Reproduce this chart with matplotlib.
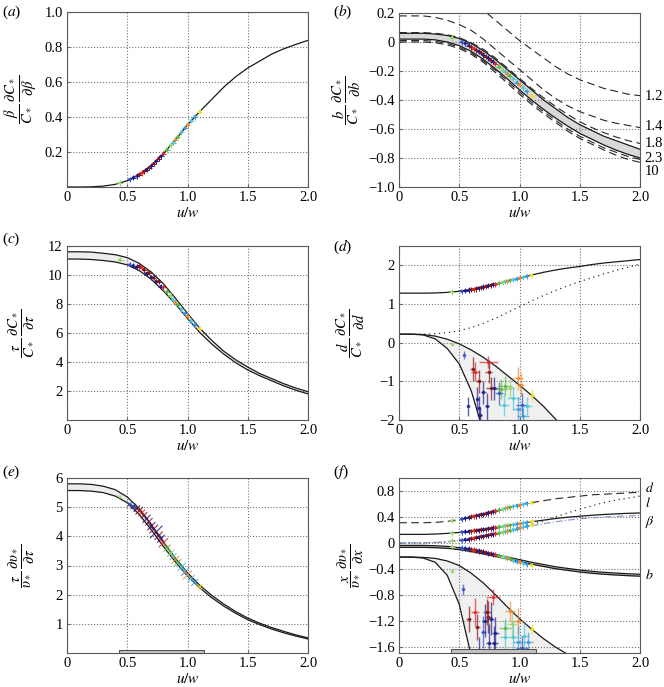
import numpy as np
import matplotlib
matplotlib.use('Agg')
import matplotlib.pyplot as plt

plt.rcParams['font.family'] = ['Liberation Serif', 'DejaVu Serif']
plt.rcParams['mathtext.fontset'] = 'stix'
plt.rcParams['font.size'] = 10

# common abscissa u/w
u = [0.0, 0.1, 0.2, 0.3, 0.4, 0.5, 0.6, 0.7, 0.8, 0.9, 1.0,
     1.1, 1.2, 1.3, 1.4, 1.5, 1.6, 1.7, 1.8, 1.9, 2.0]

# (a)
a_curve = [0, 0, 0.001, 0.005, 0.015, 0.036, 0.07, 0.12, 0.19, 0.27, 0.355,
           0.43, 0.50, 0.57, 0.63, 0.68, 0.72, 0.76, 0.79, 0.815, 0.838]

# (b)
b_upper = [0.06, 0.06, 0.06, 0.055, 0.045, 0.025, -0.01, -0.06, -0.12, -0.19, -0.26,
           -0.33, -0.40, -0.46, -0.52, -0.57, -0.61, -0.65, -0.68, -0.71, -0.74]
b_lower = [0.02, 0.02, 0.02, 0.015, 0.0, -0.025, -0.065, -0.12, -0.185, -0.255, -0.33,
           -0.40, -0.465, -0.525, -0.58, -0.63, -0.67, -0.71, -0.745, -0.775, -0.80]
b_d12 = [0.42, 0.42, 0.41, 0.39, 0.36, 0.33, 0.28, 0.22, 0.15, 0.08, 0.01,
         -0.05, -0.11, -0.17, -0.22, -0.26, -0.29, -0.32, -0.34, -0.36, -0.37]
b_d14 = [0.18, 0.18, 0.18, 0.17, 0.15, 0.12, 0.08, 0.02, -0.05, -0.12, -0.19,
         -0.26, -0.33, -0.39, -0.44, -0.48, -0.51, -0.54, -0.56, -0.575, -0.59]
b_d18 = [0.065, 0.065, 0.065, 0.06, 0.05, 0.03, -0.005, -0.05, -0.11, -0.18, -0.25,
         -0.32, -0.385, -0.445, -0.5, -0.55, -0.59, -0.625, -0.655, -0.68, -0.70]
b_d23 = [0.01, 0.01, 0.01, 0.005, -0.01, -0.035, -0.075, -0.13, -0.195, -0.27, -0.345,
         -0.415, -0.48, -0.54, -0.6, -0.65, -0.69, -0.73, -0.76, -0.79, -0.81]
b_d10 = [0.0, 0.0, 0.0, -0.005, -0.02, -0.045, -0.085, -0.14, -0.21, -0.285, -0.36,
         -0.43, -0.495, -0.555, -0.615, -0.665, -0.705, -0.745, -0.78, -0.81, -0.83]
b_names = ['1.2', '1.4', '1.8', '2.3', '10']
b_name_y = [-0.375, -0.58, -0.70, -0.80, -0.89]

# (c)
c_upper = [11.6, 11.6, 11.58, 11.5, 11.4, 11.2, 10.8, 10.2, 9.4, 8.4, 7.35,
           6.35, 5.5, 4.75, 4.15, 3.65, 3.2, 2.85, 2.5, 2.2, 1.95]
c_lower = [11.1, 11.1, 11.07, 11.0, 10.9, 10.7, 10.3, 9.7, 8.9, 8.0, 7.0,
           6.05, 5.25, 4.55, 3.95, 3.45, 3.05, 2.7, 2.35, 2.05, 1.8]

# (d)
d_top = [1.28, 1.28, 1.28, 1.285, 1.30, 1.33, 1.38, 1.44, 1.51, 1.59, 1.67,
         1.75, 1.82, 1.88, 1.93, 1.97, 2.02, 2.06, 2.09, 2.12, 2.15]
d_dot = [0.22, 0.22, 0.22, 0.23, 0.26, 0.31, 0.39, 0.50, 0.63, 0.78, 0.93,
         1.08, 1.22, 1.35, 1.47, 1.58, 1.68, 1.78, 1.87, 1.95, 2.03]
d_steep = [0.22, 0.22, 0.20, 0.10, -0.15, -0.55, -1.25, -2.3, -3.5, -5, -7,
           -9, -11, -13, -15, -17, -19, -21, -23, -25, -27]
d_shallow = [0.22, 0.22, 0.21, 0.17, 0.09, -0.03, -0.19, -0.38, -0.6, -0.85, -1.1,
             -1.36, -1.65, -1.98, -2.3, -2.7, -3.1, -3.5, -3.9, -4.3, -4.7]

# (e)
e_upper = [5.8, 5.8, 5.78, 5.72, 5.6, 5.35, 4.95, 4.4, 3.8, 3.25, 2.75,
           2.33, 1.98, 1.68, 1.42, 1.2, 1.02, 0.87, 0.74, 0.62, 0.52]
e_lower = [5.57, 5.57, 5.55, 5.5, 5.38, 5.15, 4.75, 4.22, 3.65, 3.12, 2.64,
           2.24, 1.9, 1.61, 1.36, 1.14, 0.97, 0.82, 0.69, 0.58, 0.48]

# (f)
f_d = [0.31, 0.31, 0.31, 0.315, 0.33, 0.36, 0.40, 0.44, 0.49, 0.54, 0.58,
       0.62, 0.65, 0.68, 0.70, 0.72, 0.74, 0.75, 0.76, 0.77, 0.78]
f_l = [0.0, 0.0, 0.0, 0.005, 0.015, 0.04, 0.07, 0.11, 0.15, 0.19, 0.23,
       0.28, 0.34, 0.40, 0.46, 0.52, 0.57, 0.62, 0.66, 0.69, 0.72]
f_beta = [0.13, 0.13, 0.13, 0.135, 0.145, 0.16, 0.18, 0.205, 0.235, 0.265, 0.295,
          0.325, 0.35, 0.375, 0.395, 0.41, 0.425, 0.437, 0.447, 0.455, 0.46]
f_fit = [0.0, 0.0, 0.0, 0.005, 0.015, 0.035, 0.065, 0.1, 0.14, 0.18, 0.22,
         0.26, 0.295, 0.325, 0.35, 0.37, 0.385, 0.398, 0.408, 0.415, 0.42]
f_b_upper = [-0.04, -0.04, -0.04, -0.045, -0.055, -0.075, -0.105, -0.14, -0.18, -0.22, -0.26,
             -0.3, -0.335, -0.37, -0.395, -0.42, -0.44, -0.455, -0.467, -0.477, -0.485]
f_b_lower = [-0.07, -0.07, -0.07, -0.075, -0.085, -0.105, -0.135, -0.17, -0.21, -0.25, -0.29,
             -0.33, -0.365, -0.4, -0.425, -0.45, -0.47, -0.485, -0.497, -0.507, -0.515]
f_steep = [-0.22, -0.22, -0.235, -0.3, -0.5, -0.95, -1.75, -2.6, -3.5, -4.5, -5.5,
           -6.5, -7.5, -8.5, -9.5, -10.5, -11.5, -12.5, -13.5, -14.5, -15.5]
f_shallow = [-0.22, -0.22, -0.225, -0.24, -0.28, -0.35, -0.47, -0.62, -0.8, -0.99, -1.17,
             -1.33, -1.48, -1.61, -1.72, -1.82, -1.9, -1.98, -2.05, -2.1, -2.15]
f_names = ['$d$', '$l$', r'$\beta$', '$b$']
f_name_y = [0.84, 0.615, 0.32, -0.50]

# experiments (shared u/w and colour)
exp_u = [0.44, 0.52, 0.55, 0.58, 0.60, 0.62, 0.64, 0.66, 0.68, 0.70, 0.72, 0.74, 0.76,
         0.78, 0.80, 0.83, 0.86, 0.88, 0.90, 0.92, 0.95, 0.98, 1.00, 1.03, 1.06, 1.10]
exp_c = ['lgreen', 'blue', 'dblue', 'dblue', 'dred', 'red', 'dred', 'dblue', 'dred',
         'dblue', 'dred', 'dblue', 'dred', 'dblue', 'red', 'green', 'lgreen', 'cyan',
         'orange', 'green', 'cyan', 'lblue', 'orange', 'cyan', 'lblue', 'yellow']
exp_a = [0.023, 0.043, 0.053, 0.063, 0.07, 0.08, 0.09, 0.10, 0.11, 0.12, 0.134, 0.148, 0.162,
         0.176, 0.19, 0.214, 0.238, 0.254, 0.27, 0.287, 0.312, 0.338, 0.355, 0.378, 0.40, 0.43]
exp_b = [0.03, 0.0, -0.01, -0.025, -0.035, -0.045, -0.055, -0.065, -0.075, -0.09, -0.10, -0.11,
         -0.125, -0.135, -0.15, -0.17, -0.19, -0.205, -0.22, -0.235, -0.255, -0.28, -0.295,
         -0.315, -0.34, -0.37]
exp_c_tau = [11.05, 10.7, 10.65, 10.55, 10.6, 10.5, 10.35, 10.1, 10.15, 9.85, 9.8, 9.55, 9.55,
             9.2, 9.15, 8.85, 8.55, 8.3, 8.1, 7.95, 7.65, 7.35, 7.15, 6.85, 6.55, 6.3]
exp_d = [1.31, 1.33, 1.34, 1.36, 1.37, 1.38, 1.39, 1.41, 1.42, 1.44, 1.45, 1.47, 1.48,
         1.50, 1.51, 1.54, 1.56, 1.58, 1.59, 1.61, 1.63, 1.65, 1.67, 1.69, 1.72, 1.74]
exp_e = [5.35, 5.1, 5.02, 4.95, 4.88, 4.8, 4.72, 4.6, 4.5, 4.35, 4.25, 4.15, 4.02,
         3.92, 3.78, 3.6, 3.42, 3.3, 3.2, 3.1, 2.95, 2.78, 2.68, 2.55, 2.42, 2.27]
exp_e_size = [6, 14, 16, 22, 30, 26, 22, 34, 28, 34, 40, 80, 36,
              30, 45, 26, 30, 26, 30, 26, 36, 30, 40, 30, 26, 14]
exp_fd = [0.34, 0.365, 0.38, 0.39, 0.40, 0.41, 0.415, 0.425, 0.435, 0.44, 0.45, 0.46, 0.47,
          0.48, 0.49, 0.505, 0.52, 0.53, 0.54, 0.55, 0.565, 0.575, 0.58, 0.595, 0.61, 0.62]
exp_fbeta = [0.15, 0.165, 0.17, 0.175, 0.18, 0.185, 0.19, 0.195, 0.20, 0.205, 0.21, 0.215, 0.22,
             0.228, 0.235, 0.245, 0.255, 0.26, 0.265, 0.27, 0.28, 0.29, 0.295, 0.305, 0.315, 0.33]
exp_fl = [0.03, 0.04, 0.05, 0.055, 0.065, 0.07, 0.08, 0.085, 0.095, 0.10, 0.11, 0.115, 0.125,
          0.13, 0.14, 0.15, 0.165, 0.17, 0.18, 0.19, 0.205, 0.22, 0.23, 0.245, 0.26, 0.28]
exp_fb = [-0.06, -0.08, -0.085, -0.095, -0.10, -0.11, -0.115, -0.125, -0.13, -0.14, -0.15,
          -0.16, -0.17, -0.175, -0.185, -0.2, -0.215, -0.225, -0.235, -0.245, -0.275, -0.29,
          -0.30, -0.315, -0.33, -0.345]

# individual estimates with error bars, panel (d)
dlow_u = [0.44, 0.54, 0.57, 0.61, 0.63, 0.66, 0.65, 0.66, 0.67, 0.70, 0.74, 0.745, 0.76, 0.73,
          0.79, 0.83, 0.88, 0.92, 0.99, 1.01, 0.95, 0.87, 0.99, 1.02, 1.06, 1.03, 1.10, 0.85]
dlow_y = [-0.03, -0.31, -1.65, -0.68, -0.75, -1.0, -1.45, -1.68, -1.88, -1.28, -0.50, -0.75,
          -1.18, -1.65, -1.18, -1.31, -1.11, -1.18, -0.92, -1.09, -1.44, -1.60, -1.71, -1.60,
          -1.65, -1.90, -1.35, -1.2]
dlow_xerr = [0.005, 0.01, 0.005, 0.02, 0.03, 0.02, 0.01, 0.01, 0.02, 0.02, 0.08, 0.03, 0.04, 0.02,
             0.03, 0.03, 0.06, 0.04, 0.04, 0.03, 0.05, 0.04, 0.04, 0.05, 0.04, 0.05, 0.02, 0.05]
dlow_yerr = [0.02, 0.1, 0.25, 0.3, 0.25, 0.3, 0.3, 0.3, 0.2, 0.3, 0.15, 0.3, 0.3, 0.35,
             0.3, 0.3, 0.25, 0.25, 0.3, 0.3, 0.3, 0.3, 0.3, 0.3, 0.25, 0.2, 0.15, 0.25]
dlow_c = ['lgreen', 'blue', 'dblue', 'dred', 'red', 'dred', 'dblue', 'dblue', 'dblue', 'dblue',
          'red', 'dred', 'dred', 'dblue', 'dblue', 'blue', 'green', 'lgreen', 'orange', 'orange',
          'cyan', 'cyan', 'lblue', 'blue', 'cyan', 'lblue', 'yellow', 'green']

# individual estimates with error bars, panel (f)
flow_u = [0.44, 0.53, 0.58, 0.63, 0.65, 0.66, 0.70, 0.71, 0.73, 0.74, 0.745, 0.76, 0.78,
          0.79, 0.80, 0.88, 0.94, 0.99, 0.88, 0.95, 0.99, 1.02, 1.04, 1.07, 1.10, 0.92]
flow_y = [-0.44, -0.72, -1.17, -1.07, -1.30, -1.65, -1.38, -1.20, -1.07, -1.14, -1.55, -1.17,
          -0.84, -1.54, -1.39, -1.32, -1.25, -1.20, -1.45, -1.45, -1.53, -1.63, -1.43, -1.53,
          -1.33, -1.05]
flow_xerr = [0.005, 0.01, 0.02, 0.03, 0.02, 0.02, 0.02, 0.02, 0.03, 0.03, 0.02, 0.03, 0.06,
             0.03, 0.03, 0.05, 0.04, 0.04, 0.04, 0.04, 0.04, 0.05, 0.04, 0.04, 0.02, 0.04]
flow_yerr = [0.02, 0.08, 0.2, 0.22, 0.2, 0.2, 0.25, 0.25, 0.2, 0.25, 0.3, 0.25, 0.12,
             0.25, 0.25, 0.15, 0.2, 0.2, 0.25, 0.25, 0.25, 0.2, 0.2, 0.15, 0.08, 0.15]
flow_c = ['lgreen', 'blue', 'dred', 'red', 'dred', 'dblue', 'blue', 'dblue', 'dred', 'dred',
          'dblue', 'dblue', 'red', 'dblue', 'dblue', 'green', 'lgreen', 'orange', 'cyan', 'cyan',
          'lblue', 'blue', 'cyan', 'lblue', 'yellow', 'orange']

# range of u/w covered by the experiments
exp_range = [0.43, 1.14]

palette = {'dblue': '#1c1c8a', 'blue': '#2f52c4', 'lblue': '#3a9ae0', 'cyan': '#4cc8d8',
           'lgreen': '#9ad66a', 'green': '#5cb845', 'yellow': '#f0e020', 'orange': '#f08a30',
           'red': '#e02a2a', 'dred': '#8c1212'}


def cols(names):
    return [palette[n] for n in names]


fig = plt.figure(figsize=(6.64, 6.87), dpi=100)


def px_axes(x0, y0, x1, y1):
    return fig.add_axes([x0 / 664, 1 - y1 / 687, (x1 - x0) / 664, (y1 - y0) / 687])


def style(ax, yticks, ylabels, ylim, ylab, labx):
    ax.set_xlim(0, 2)
    ax.set_ylim(*ylim)
    ax.set_xticks([0, 0.5, 1.0, 1.5, 2.0])
    ax.set_xticklabels(['0', '0.5', '1.0', '1.5', '2.0'])
    ax.set_yticks(yticks)
    ax.set_yticklabels(ylabels)
    ax.grid(True, linestyle=':', color='0.45', linewidth=0.8)
    ax.tick_params(direction='in', length=2.5, labelsize=10.5, pad=3, color='0.4')
    for s in ax.spines.values():
        s.set_color('0.35')
        s.set_linewidth(0.8)
    ax.set_xlabel('$u/w$', fontsize=11, labelpad=1)
    ax.set_ylabel(ylab, fontsize=10.5, rotation=90, va='center', ha='center')
    ax.yaxis.set_label_coords(labx, 0.5)


def experiments(ax, y):
    ax.scatter(exp_u, y, c=cols(exp_c), s=14, marker='+', linewidths=0.7, zorder=4)
    ax.scatter(exp_u, y, c=cols(exp_c), s=5, marker='o', linewidths=0, zorder=4)


def estimates(ax, x, y, xe, ye, c):
    for xi, yi, xer, yer, ci in zip(x, y, xe, ye, c):
        ax.errorbar(xi, yi, xerr=xer, yerr=yer, fmt='o', ms=1.6, color=palette[ci],
                    elinewidth=1.0, alpha=0.7, capsize=0, zorder=3)


lab_kw = dict(fontsize=11)

# (a)
ax = px_axes(67, 12, 308, 187)
ax.plot(u, a_curve, color='0.1', lw=0.9)
experiments(ax, exp_a)
style(ax, [0.2, 0.4, 0.6, 0.8, 1.0], ['0.2', '0.4', '0.6', '0.8', '1.0'], (0, 1.0),
      r'$\dfrac{\beta}{C_*}\,\dfrac{\partial C_*}{\partial\beta}$', -0.19)
fig.text(2 / 664, 1 - 12 / 687, '($a$)', **lab_kw, va='center')

# (b)
ax = px_axes(399, 13, 640, 187)
ax.fill_between(u, b_lower, b_upper, color='0.85', lw=0)
ax.plot(u, b_upper, color='0.1', lw=0.9)
ax.plot(u, b_lower, color='0.1', lw=0.9)
for ys in [b_d12, b_d14, b_d18, b_d23, b_d10]:
    ax.plot(u, ys, color='0.15', lw=0.8, dashes=(7, 4))
experiments(ax, exp_b)
for name, yv in zip(b_names, b_name_y):
    ax.text(2.04, yv, name, fontsize=10.5, va='center', ha='left', clip_on=False)
style(ax, [-1.0, -0.8, -0.6, -0.4, -0.2, 0, 0.2],
      ['\u22121.0', '\u22120.8', '\u22120.6', '\u22120.4', '\u22120.2', '0', '0.2'], (-1.0, 0.2),
      r'$\dfrac{b}{C_*}\,\dfrac{\partial C_*}{\partial b}$', -0.215)
fig.text(333 / 664, 1 - 12 / 687, '($b$)', **lab_kw, va='center')

# (c)
ax = px_axes(67, 246, 308, 420)
ax.fill_between(u, c_lower, c_upper, color='0.93', lw=0)
ax.plot(u, c_upper, color='0.1', lw=0.9)
ax.plot(u, c_lower, color='0.1', lw=0.9)
experiments(ax, exp_c_tau)
style(ax, [2, 4, 6, 8, 10, 12], ['2', '4', '6', '8', '10', '12'], (0, 12),
      r'$\dfrac{\tau}{C_*}\,\dfrac{\partial C_*}{\partial\tau}$', -0.19)
fig.text(2 / 664, 1 - 239 / 687, '($c$)', **lab_kw, va='center')

# (d)
ax = px_axes(399, 246, 640, 420)
ax.fill_between(u, d_steep, d_shallow, color='0.94', lw=0)
ax.plot(u, d_steep, color='0.1', lw=0.9)
ax.plot(u, d_shallow, color='0.1', lw=0.9)
ax.plot(u, d_top, color='0.1', lw=0.9)
ax.plot(u, d_dot, color='0.2', lw=0.9, linestyle=(0, (1, 3)))
experiments(ax, exp_d)
estimates(ax, dlow_u, dlow_y, dlow_xerr, dlow_yerr, dlow_c)
style(ax, [-2, -1, 0, 1, 2], ['\u22122', '\u22121', '0', '1', '2'], (-2, 2.5),
      r'$\dfrac{d}{C_*}\,\dfrac{\partial C_*}{\partial d}$', -0.2)
fig.text(333 / 664, 1 - 247 / 687, '($d$)', **lab_kw, va='center')

# (e)
ax = px_axes(67, 478, 308, 653)
ax.fill_between(u, e_lower, e_upper, color='0.93', lw=0)
ax.plot(u, e_upper, color='0.1', lw=0.9)
ax.plot(u, e_lower, color='0.1', lw=0.9)
ax.scatter(exp_u, exp_e, c=cols(exp_c), s=exp_e_size, marker='x', linewidths=0.8, alpha=0.85,
           zorder=4)
ax.broken_barh([(exp_range[0], exp_range[1] - exp_range[0])], (0, 0.11),
               facecolor='0.75', edgecolor='0.3', lw=0.7, zorder=5)
style(ax, [1, 2, 3, 4, 5, 6], ['1', '2', '3', '4', '5', '6'], (0, 6),
      r'$\dfrac{\tau}{\upsilon_*}\,\dfrac{\partial \upsilon_*}{\partial\tau}$', -0.19)
fig.text(2 / 664, 1 - 472 / 687, '($e$)', **lab_kw, va='center')

# (f)
ax = px_axes(399, 478, 640, 653)
ax.fill_between(u, f_steep, f_shallow, color='0.94', lw=0)
ax.plot(u, f_steep, color='0.1', lw=0.9)
ax.plot(u, f_shallow, color='0.1', lw=0.9)
ax.fill_between(u, f_b_lower, f_b_upper, color='0.75', lw=0)
ax.plot(u, f_b_upper, color='0.1', lw=0.9)
ax.plot(u, f_b_lower, color='0.1', lw=0.9)
ax.plot(u, f_beta, color='0.1', lw=0.9)
ax.plot(u, f_d, color='0.15', lw=0.8, dashes=(7, 4))
ax.plot(u, f_l, color='0.2', lw=0.9, linestyle=(0, (1, 3)))
ax.plot(u, f_fit, color='#7f8fc8', lw=0.8, dashes=(6, 2, 1, 2))
for ys in [exp_fd, exp_fbeta, exp_fl, exp_fb]:
    experiments(ax, ys)
estimates(ax, flow_u, flow_y, flow_xerr, flow_yerr, flow_c)
ax.broken_barh([(exp_range[0], exp_range[1] - exp_range[0])], (-1.7, 0.055),
               facecolor='0.75', edgecolor='0.3', lw=0.7, zorder=5)
for name, yv in zip(f_names, f_name_y):
    ax.text(2.04, yv, name, fontsize=10, va='center', ha='left', clip_on=False)
style(ax, [-1.6, -1.2, -0.8, -0.4, 0, 0.4, 0.8],
      ['\u22121.6', '\u22121.2', '\u22120.8', '\u22120.4', '0', '0.4', '0.8'], (-1.7, 1.0),
      r'$\dfrac{x}{\upsilon_*}\,\dfrac{\partial \upsilon_*}{\partial x}$', -0.2)
fig.text(333 / 664, 1 - 472 / 687, '($f$)', **lab_kw, va='center')

fig.savefig('out.png', dpi=100)
